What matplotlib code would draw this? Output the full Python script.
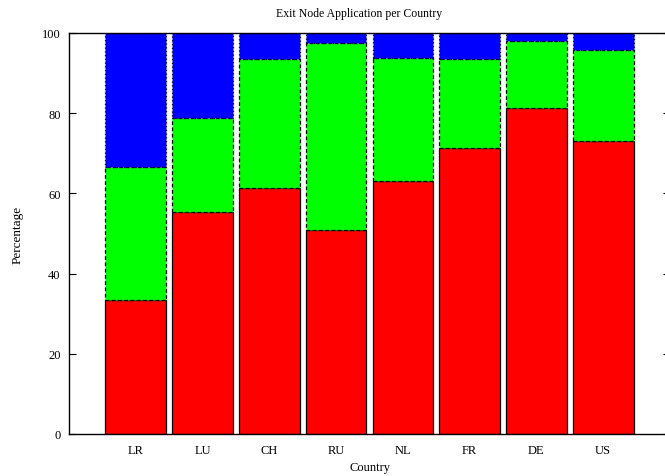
import matplotlib.pyplot as plt
import numpy as np

plt.rcParams['font.family'] = ['Liberation Serif', 'DejaVu Serif']

countries = ['LR', 'LU', 'CH', 'RU', 'NL', 'FR', 'DE', 'US']
# cumulative tops (percent)
red = [33.3, 55.3, 61.4, 50.9, 63.0, 71.3, 81.2, 73.0]
green_top = [66.6, 78.8, 93.4, 97.6, 93.7, 93.5, 98.0, 95.8]

red = np.array(red)
green = np.array(green_top) - red
blue = 100 - np.array(green_top)

fig = plt.figure(figsize=(6.65, 4.77), dpi=100)
ax = fig.add_axes([69/665, 1 - 435/477, 601/665, 401/477])

x = np.arange(len(countries))
w = 0.91
ax.bar(x, red, w, color='#ff0000', edgecolor='black', linewidth=0.9)
ax.bar(x, green, w, bottom=red, color='#00ff00', edgecolor='black',
       linewidth=0.9, linestyle=(0, (3, 2)))
ax.bar(x, blue, w, bottom=red + green, color='#0000ff', edgecolor='black',
       linewidth=0.9, linestyle=(0, (1, 2)))

ax.set_xlim(-1, 8)
ax.set_ylim(0, 100)
ax.set_xticks(x)
ax.set_xticklabels(countries)
ax.set_yticks([0, 20, 40, 60, 80, 100])
ax.tick_params(axis='y', direction='in', right=True, length=5, labelsize=9, pad=6)
ax.tick_params(axis='x', length=0, labelsize=9, pad=7)
for s in ax.spines.values():
    s.set_linewidth(1.0)

ax.set_title('Exit Node Application per Country', fontsize=8.5, pad=12, x=0.4825)
ax.set_xlabel('Country', fontsize=9, labelpad=4)
ax.set_ylabel('Percentage', fontsize=9.5, labelpad=13)

fig.savefig('out.png', dpi=100)
